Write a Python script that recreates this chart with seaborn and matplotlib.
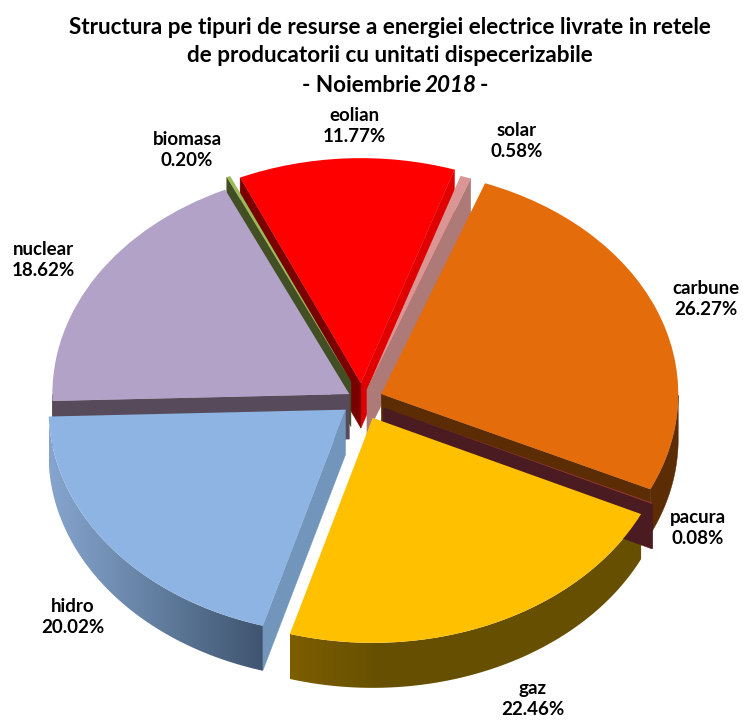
import numpy as np
import matplotlib
matplotlib.use("Agg")
import matplotlib.pyplot as plt
from matplotlib.colors import LinearSegmentedColormap
from matplotlib.patches import Polygon
import seaborn as sns

# resursa, clockwise from the top
resurse = ["eolian", "solar", "carbune", "pacura", "gaz", "hidro", "nuclear", "biomasa"]
procente = [11.77, 0.58, 26.27, 0.08, 22.46, 20.02, 18.62, 0.20]
explode = [0.075, 0.05, 0.07, 0.08, 0.087, 0.07, 0.05, 0.09]

top_colors = ["#FF0000", "#D99694", "#E46C0A", "#953735", "#FFC000", "#8EB4E3", "#B3A2C7", "#9BBB59"]
wall_colors = ["#A00000", "#AD7A78", "#5C2C04", "#4A1B20", "#665000", "#5B7594", "#5B4D5F", "#424F25"]
start_face = ["#7A0000", "#AD7A78", "#5C2C04", "#4A1B20", "#665000", "#7295BC", "#574A5B", "#424F25"]
end_face = ["#E00000", "#AD7A78", "#5C2C04", "#4A1B20", "#665000", "#7295BC", "#574A5B", "#424F25"]
# back to front for the walls
wall_order = ["eolian", "biomasa", "solar", "nuclear", "carbune", "hidro", "gaz", "pacura"]
gradients = {
    "hidro": ["#86A5CE", "#6F8CB0", "#56708F", "#3F5470"],
    "gaz": ["#7D5E00", "#665000", "#665000", "#665000", "#665000"],
}

W, H = 743, 720
CX, CY = 362, 400
RX, RY = 297, 225
DEPTH = 45 / RY

sns.set_theme(style="white")
plt.rcParams["font.family"] = ["Lato", "DejaVu Sans"]

fig = plt.figure(figsize=(W / 100, H / 100), dpi=100)
ax = fig.add_axes([0, 0, 1, 1])

wedges, _ = ax.pie(procente, explode=explode, colors=sns.color_palette(top_colors),
                   startangle=114, counterclock=False, wedgeprops={"linewidth": 0})
ax.set_aspect("auto")
for w in wedges:
    w.set_zorder(5)


def draw_walls(name):
    i = resurse.index(name)
    w = wedges[i]
    c = np.array(w.center)
    # only the faces turned to the viewer, the others would fringe the top
    for ang, col, sign in [(w.theta1, end_face[i], 1), (w.theta2, start_face[i], -1)]:
        rad = np.radians(ang)
        if sign * np.cos(rad) <= 0:
            continue
        p = c + w.r * np.array([np.cos(rad), np.sin(rad)])
        pts = [c, p, p - [0, DEPTH], c - [0, DEPTH]]
        ax.add_patch(Polygon(pts, closed=True, fc=col, ec=col, lw=0.3, zorder=2))
    t = np.radians(np.linspace(w.theta1, w.theta2, 200))
    t = t[np.sin(t) < 0]
    if len(t) < 2:
        return
    arc = np.c_[c[0] + w.r * np.cos(t), c[1] + w.r * np.sin(t)]
    pts = np.vstack([arc, (arc - [0, DEPTH])[::-1]])
    if name in gradients:
        patch = Polygon(pts, closed=True, fc="none", ec="none", zorder=2)
        ax.add_patch(patch)
        cmap = LinearSegmentedColormap.from_list(name, gradients[name])
        x0, x1 = pts[:, 0].min(), pts[:, 0].max()
        y0, y1 = pts[:, 1].min(), pts[:, 1].max()
        im = ax.imshow(np.linspace(0, 1, 256).reshape(1, -1), cmap=cmap, aspect="auto",
                       extent=[x0, x1, y0, y1], zorder=2)
        im.set_clip_path(patch)
    else:
        ax.add_patch(Polygon(pts, closed=True, fc=wall_colors[i], ec=wall_colors[i], lw=0.3, zorder=2))


for name in wall_order:
    draw_walls(name)

# imshow resets the limits
ax.set_aspect("auto")
ax.set_xlim(-CX / RX, (W - CX) / RX)
ax.set_ylim(-(H - CY) / RY, CY / RY)
ax.axis("off")

label_pos = {
    "eolian": (354, 126), "solar": (517, 141), "carbune": (706, 299), "pacura": (698, 528),
    "gaz": (533, 699), "hidro": (73, 617), "nuclear": (43, 260), "biomasa": (187, 150),
}
for name, val in zip(resurse, procente):
    x, y = label_pos[name]
    fig.text(x / W, 1 - y / H, f"{name}\n{val:.2f}%", ha="center", va="center",
             fontsize=13.5, fontweight="bold", color="black", linespacing=1.35)

title_kw = dict(fontsize=16.2, fontweight="bold", color="black", va="center")
fig.text(390 / W, 1 - 27 / H, "Structura pe tipuri de resurse a energiei electrice livrate in retele", ha="center", **title_kw)
fig.text(390 / W, 1 - 56 / H, "de producatorii cu unitati dispecerizabile", ha="center", **title_kw)
fig.text(421 / W, 1 - 85 / H, "- Noiembrie", ha="right", **title_kw)
fig.text(425 / W, 1 - 85 / H, "2018", ha="left", fontstyle="italic", **title_kw)
fig.text(480 / W, 1 - 85 / H, "-", ha="left", **title_kw)

fig.savefig("out.png", dpi=100, facecolor="white")
